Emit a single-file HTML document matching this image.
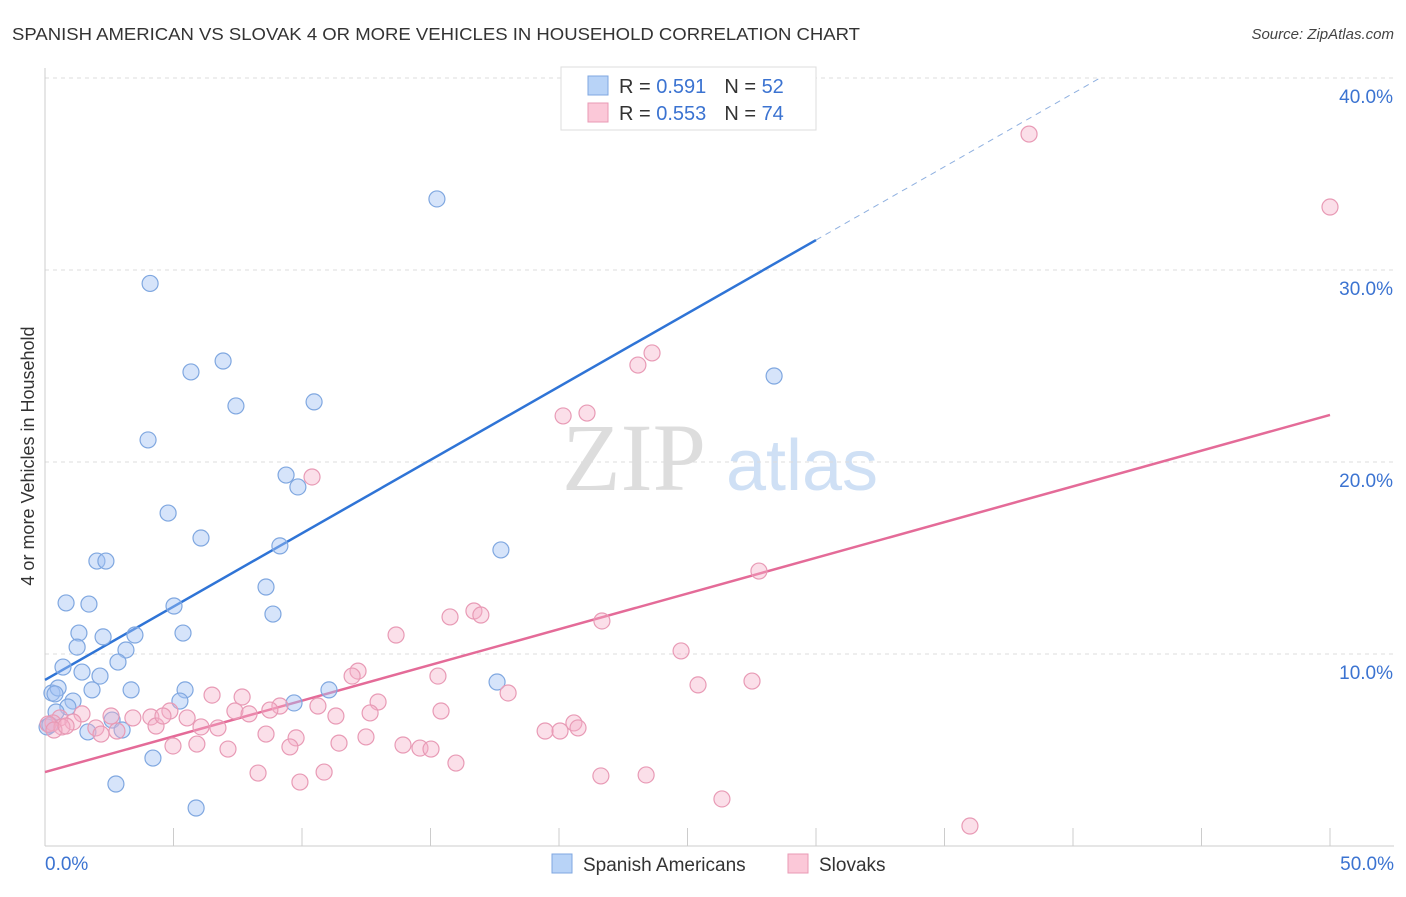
<!DOCTYPE html>
<html><head><meta charset="utf-8"><style>
body{margin:0;background:#fff;font-family:"Liberation Sans",sans-serif}
</style></head><body>
<svg id="chart" width="1406" height="892" xmlns="http://www.w3.org/2000/svg" font-family="Liberation Sans, sans-serif">
<text x="12" y="40" font-size="17.5" fill="#333" textLength="848" lengthAdjust="spacingAndGlyphs">SPANISH AMERICAN VS SLOVAK 4 OR MORE VEHICLES IN HOUSEHOLD CORRELATION CHART</text>
<text x="1394" y="39" font-size="15" fill="#444" text-anchor="end" font-style="italic">Source: ZipAtlas.com</text>
<text transform="translate(34,456) rotate(-90)" font-size="18" fill="#333" text-anchor="middle">4 or more Vehicles in Household</text>
<g>
<text x="634" y="490" font-size="96" fill="#ddd" font-family="Liberation Serif, serif" text-anchor="middle">ZIP</text>
<text x="802" y="490" font-size="72" fill="#cfe0f5" text-anchor="middle">atlas</text>
</g>
<g id="grid"></g><g id="axes"></g><g id="lines"></g><g id="pts"></g>
<g>
<rect x="561" y="67" width="255" height="63" fill="#fff" stroke="#ddd"/>
<rect x="588" y="76" width="20" height="19" fill="#b8d3f7" stroke="#7fa7e0"/>
<rect x="588" y="103" width="20" height="19" fill="#fbc8d8" stroke="#e89ab5"/>
<text x="619" y="93" font-size="20" fill="#333">R = <tspan fill="#3b73d1"> 0.591</tspan><tspan dx="18">N = </tspan><tspan fill="#3b73d1">52</tspan></text>
<text x="619" y="120" font-size="20" fill="#333">R = <tspan fill="#3b73d1">0.553</tspan><tspan dx="18">N = </tspan><tspan fill="#3b73d1">74</tspan></text>
</g>
<g>
<rect x="552" y="854" width="20" height="19" fill="#b8d3f7" stroke="#7fa7e0"/>
<text x="583" y="871" font-size="19" fill="#333">Spanish Americans</text>
<rect x="788" y="854" width="20" height="19" fill="#fbc8d8" stroke="#e89ab5"/>
<text x="819" y="871" font-size="19" fill="#333">Slovaks</text>
</g>
</svg>
<script>
const yTicks=[10,20,30,40];
const xTickLabels=["0.0%","50.0%"];
const blueX=[15.25,4.09,6.93,5.68,7.43,10.47,28.37,4.01,9.38,9.84,4.79,6.07,9.14,17.74,2.02,2.37,8.60,0.82,1.71,5.02,8.87,5.37,1.32,2.26,3.50,1.25,3.15,0.70,2.84,1.44,2.14,0.27,0.51,1.83,3.35,5.45,11.05,17.59,5.25,9.69,1.09,0.89,0.43,2.61,3.00,1.67,4.20,2.76,5.88,0.08,0.39,0.19];
const blueY=[33.7,29.3,25.26,24.69,22.92,23.13,24.48,21.15,19.32,18.70,17.34,16.04,15.63,15.42,14.84,14.84,13.49,12.66,12.60,12.50,12.08,11.09,11.09,10.89,10.99,10.36,10.21,9.32,9.58,9.06,8.85,7.97,8.23,8.13,8.13,8.13,8.13,8.54,7.55,7.45,7.55,7.24,6.98,6.56,6.04,5.94,4.58,3.23,1.98,6.20,7.92,6.30];
const pinkX=[38.29,50.0,23.62,23.07,21.09,20.16,10.39,27.78,16.69,15.76,16.96,21.67,13.66,24.75,12.18,11.95,15.29,25.41,27.51,6.50,7.67,18.02,9.14,12.96,7.39,8.75,7.94,10.62,11.32,12.65,15.41,4.86,4.12,3.42,2.57,1.44,0.58,1.09,0.31,0.12,0.66,1.98,2.18,2.80,4.32,4.59,5.53,6.07,6.73,8.60,9.77,11.44,12.49,13.93,14.59,15.02,19.46,20.04,20.58,20.74,4.98,5.91,7.12,9.53,15.99,8.29,10.86,9.92,21.63,23.39,26.34,35.99,0.35,0.82];
const pinkY=[37.08,33.28,25.68,25.05,22.55,22.40,19.22,14.32,12.24,11.93,12.03,11.72,10.99,10.16,9.11,8.85,8.85,8.39,8.59,7.86,7.76,7.97,7.29,7.50,7.03,7.08,6.88,7.29,6.77,6.93,7.03,7.03,6.72,6.67,6.77,6.88,6.67,6.46,6.41,6.35,6.20,6.15,5.83,5.99,6.25,6.77,6.67,6.20,6.15,5.83,5.63,5.36,5.68,5.26,5.10,5.05,5.99,5.99,6.41,6.15,5.21,5.31,5.05,5.16,4.32,3.80,3.85,3.33,3.65,3.70,2.45,1.04,6.04,6.25];
const blueLine=[8.65,31.56,30];
const pinkLine=[3.85,22.45];
const NS="http://www.w3.org/2000/svg";
const sx=v=>45+v*25.7, sy=v=>846-v*19.2;
function mk(tag,attrs,parent){const e=document.createElementNS(NS,tag);for(const k in attrs)e.setAttribute(k,attrs[k]);document.getElementById(parent).appendChild(e);return e;}
yTicks.forEach(t=>{
 const l=mk('line',{x1:45,x2:1394,y1:sy(t),y2:sy(t),stroke:'#ddd','stroke-dasharray':'4,4'},'grid');
 
 
 const tx=mk('text',{x:1393,y:sy(t)+25,'font-size':19,fill:'#3b73d1','text-anchor':'end'},'grid');
 tx.textContent=t.toFixed(1)+'%';
 
 
});
const xa=mk('line',{x1:45,x2:1394,y1:846,y2:846,stroke:'#ccc'},'axes');


const ya=mk('line',{x1:45,x2:45,y1:68,y2:846,stroke:'#ccc'},'axes');


for(let i=1;i<=10;i++){const t=mk('line',{x1:sx(i*5),x2:sx(i*5),y1:828,y2:846,stroke:'#ccc'},'axes');
 
 }
xTickLabels.forEach((s,i)=>{const t=mk('text',{x:i?1394:45,y:870,'font-size':19,fill:'#3b73d1','text-anchor':i?'end':'start'},'axes');t.textContent=s;
 
 });
const slope=(blueLine[1]-blueLine[0])/30, bAt=x=>blueLine[0]+slope*x;
const b1=mk('line',{x1:sx(0),y1:sy(bAt(0)),x2:sx(blueLine[2]),y2:sy(bAt(blueLine[2])),stroke:'#2f74d6','stroke-width':2.5},'lines');


const xe=(40-blueLine[0])/slope;
const b2=mk('line',{x1:sx(blueLine[2]),y1:sy(bAt(blueLine[2])),x2:sx(xe),y2:sy(40),stroke:'#8fb0e0','stroke-width':1,'stroke-dasharray':'6,5'},'lines');


const p1=mk('line',{x1:sx(0),y1:sy(pinkLine[0]),x2:sx(50),y2:sy(pinkLine[1]),stroke:'#e46b98','stroke-width':2.5},'lines');


blueX.forEach((x,i)=>{const c=mk('circle',{cx:sx(x),cy:sy(blueY[i]),r:8,fill:'rgba(164,196,244,0.45)',stroke:'#7fa7e0','stroke-width':1.2},'pts');
 
 });
pinkX.forEach((x,i)=>{const c=mk('circle',{cx:sx(x),cy:sy(pinkY[i]),r:8,fill:'rgba(246,176,200,0.4)',stroke:'#e89ab5','stroke-width':1.2},'pts');
 
 });
</script>
</body></html>
